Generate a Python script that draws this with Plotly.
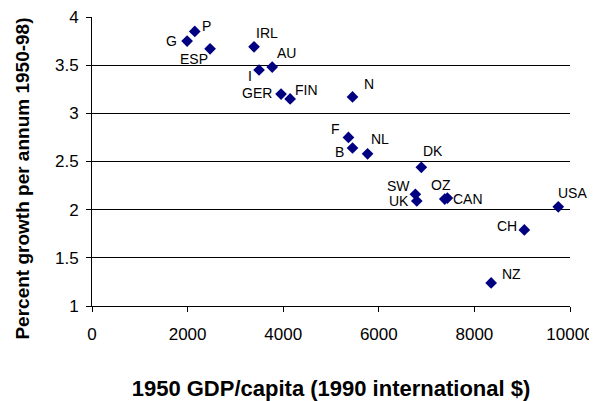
import plotly.graph_objects as go

countries = ["G", "P", "ESP", "IRL", "AU", "I", "GER", "FIN", "N", "F", "B", "NL",
             "DK", "SW", "UK", "OZ", "CAN", "USA", "CH", "NZ"]
gdp1950 = [1990, 2150, 2470, 3390, 3770, 3495, 3955, 4145, 5450, 5365, 5450, 5765,
           6890, 6765, 6795, 7380, 7435, 9755, 9045, 8350]
growth = [3.75, 3.85, 3.67, 3.69, 3.48, 3.45, 3.20, 3.15, 3.17, 2.75, 2.64, 2.58,
          2.44, 2.16, 2.09, 2.11, 2.12, 2.03, 1.79, 1.24]

x_ticks = [0, 2000, 4000, 6000, 8000, 10000]
y_ticks = [1, 1.5, 2, 2.5, 3, 3.5, 4]

x_title = "1950 GDP/capita (1990 international $)"
y_title = "Percent growth per annum 1950-98)"

# label placement: (xanchor, xshift, yshift)
label_pos = {
    "G": ("right", -8, 0), "P": ("left", 5, 5), "ESP": ("right", 0, -10),
    "IRL": ("left", 0, 14), "AU": ("left", 3, 14), "I": ("right", -5, -6),
    "GER": ("right", -7, 1), "FIN": ("left", 3, 9), "N": ("left", 9, 13),
    "F": ("right", -6, 8), "B": ("right", -7, -4), "NL": ("left", 1, 15),
    "DK": ("left", 0, 16), "SW": ("right", -3, 8), "UK": ("right", -6, 0),
    "OZ": ("center", -4, 14), "CAN": ("left", 4, -1), "USA": ("left", -2, 14),
    "CH": ("right", -5, 4), "NZ": ("left", 9, 9),
}

fig = go.Figure()
fig.add_trace(go.Scatter(
    x=gdp1950, y=growth, mode="markers",
    marker=dict(symbol="diamond", size=9, color="#000080"),
    hoverinfo="skip", showlegend=False,
))

for c, xv, yv in zip(countries, gdp1950, growth):
    xa, xs, ys = label_pos[c]
    fig.add_annotation(x=xv, y=yv, text=c, showarrow=False, xanchor=xa,
                       yanchor="middle", xshift=xs, yshift=ys,
                       font=dict(family="Liberation Sans, Arial", size=14, color="black"))

# y-axis title (sits a little below the plot's vertical centre, as in the original)
fig.add_annotation(xref="paper", yref="paper", x=0, y=0.441, xshift=-69,
                   text="<b>%s</b>" % y_title, textangle=-90, showarrow=False,
                   xanchor="center", yanchor="middle",
                   font=dict(family="Liberation Sans, Arial", size=19, color="black"))

# page body has an 8px default margin, so the figure is sized to fit the window
fig.update_layout(
    width=589, height=393,
    margin=dict(l=84, r=27, t=9, b=95),
    paper_bgcolor="white", plot_bgcolor="white",
    font=dict(family="Liberation Sans, Arial", size=17, color="black"),
)
fig.update_xaxes(
    range=[0, 10000], tickvals=x_ticks, ticktext=[str(v) for v in x_ticks],
    showgrid=False, zeroline=False, showline=True, linecolor="black", linewidth=1,
    ticks="outside", ticklen=5, tickcolor="black", automargin=False,
    ticklabelstandoff=8, tickfont=dict(size=17), ticklabeloverflow="allow",
    title=dict(text="<b>%s</b>" % x_title, standoff=37, font=dict(size=22)),
)
fig.update_yaxes(
    range=[1, 4], tickvals=y_ticks, ticktext=[("%g" % v) for v in y_ticks],
    showgrid=True, gridcolor="black", gridwidth=1, zeroline=False,
    showline=True, linecolor="black", linewidth=1,
    ticks="outside", ticklen=5, tickcolor="black", automargin=False,
    ticklabelstandoff=4, tickfont=dict(size=17), ticklabeloverflow="allow",
)

fig.write_html("out.html")
